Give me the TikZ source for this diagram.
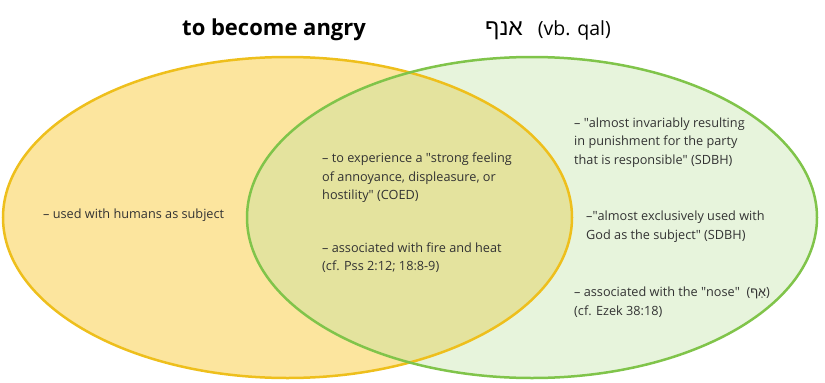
\documentclass[tikz,border=0pt]{standalone}
\usepackage{fontspec}
\setmainfont{Open Sans}
\newfontfamily\hebfont[Script=Hebrew]{Liberation Sans}
\TeXXeTstate=1
\usetikzlibrary{positioning}
\definecolor{setyellow}{RGB}{252,229,158}
\definecolor{edgeyellow}{RGB}{238,191,28}
\definecolor{setgreen}{RGB}{188,224,158}
\definecolor{edgegreen}{RGB}{128,196,74}
\definecolor{notegray}{RGB}{51,51,51}
\newcommand{\dq}{\textquotedbl}

\begin{document}
\begin{tikzpicture}[x=1pt, y=-1pt, every node/.style={font=\fontsize{12.7}{18.5}\selectfont, text=notegray, inner sep=0pt, align=left}]
  \tikzstyle{note}=[anchor=west]
  \tikzstyle{heading}=[anchor=base west, text=black]
  \tikzstyle{rim}=[line width=2.5pt]
  \useasboundingbox (0,0) rectangle (825,383);
  % the two sets
  \fill[setyellow] (287.5,217.5) ellipse [x radius=284.5pt, y radius=160.5pt];
  \fill[setgreen, fill opacity=0.36] (532,217.5) ellipse [x radius=285pt, y radius=160.5pt];
  \draw[rim, edgeyellow] (287.5,217.5) ellipse [x radius=284.5pt, y radius=160.5pt];
  \draw[rim, edgegreen] (532,217.5) ellipse [x radius=285pt, y radius=160.5pt];
  % headings
  \node[heading, font=\fontsize{22}{24}\selectfont\bfseries] (english) at (182,35) {to become angry};
  \node[heading, font=\fontsize{19.5}{24}\selectfont] (hebrew) at (485,35) {{\hebfont\fontsize{23}{24}\selectfont\beginR אנף\endR}\hspace{15pt}(vb. qal)};
  % english only
  \node[note] (humans) at (43,215) {– used with humans as subject};
  % shared
  \node[note] (feeling) at (322,178) {– to experience a \dq strong feeling\\of annoyance, displeasure, or\\hostility\dq{} (COED)};
  \node[note] (fire) at (322,257.5) {– associated with fire and heat\\(cf. Pss 2:12; 18:8-9)};
  % hebrew only
  \node[note] (punish) at (574,142.5) {– \dq almost invariably resulting\\in punishment for the party\\that is responsible\dq{} (SDBH)};
  \node[note] (god) at (586,226.5) {–\dq almost exclusively used with\\God as the subject\dq{} (SDBH)};
  \node[note] (nose) at (574,302) {– associated with the \dq nose\dq\ \ ({\hebfont\beginR אַף\endR})\\(cf. Ezek 38:18)};
\end{tikzpicture}
\end{document}
